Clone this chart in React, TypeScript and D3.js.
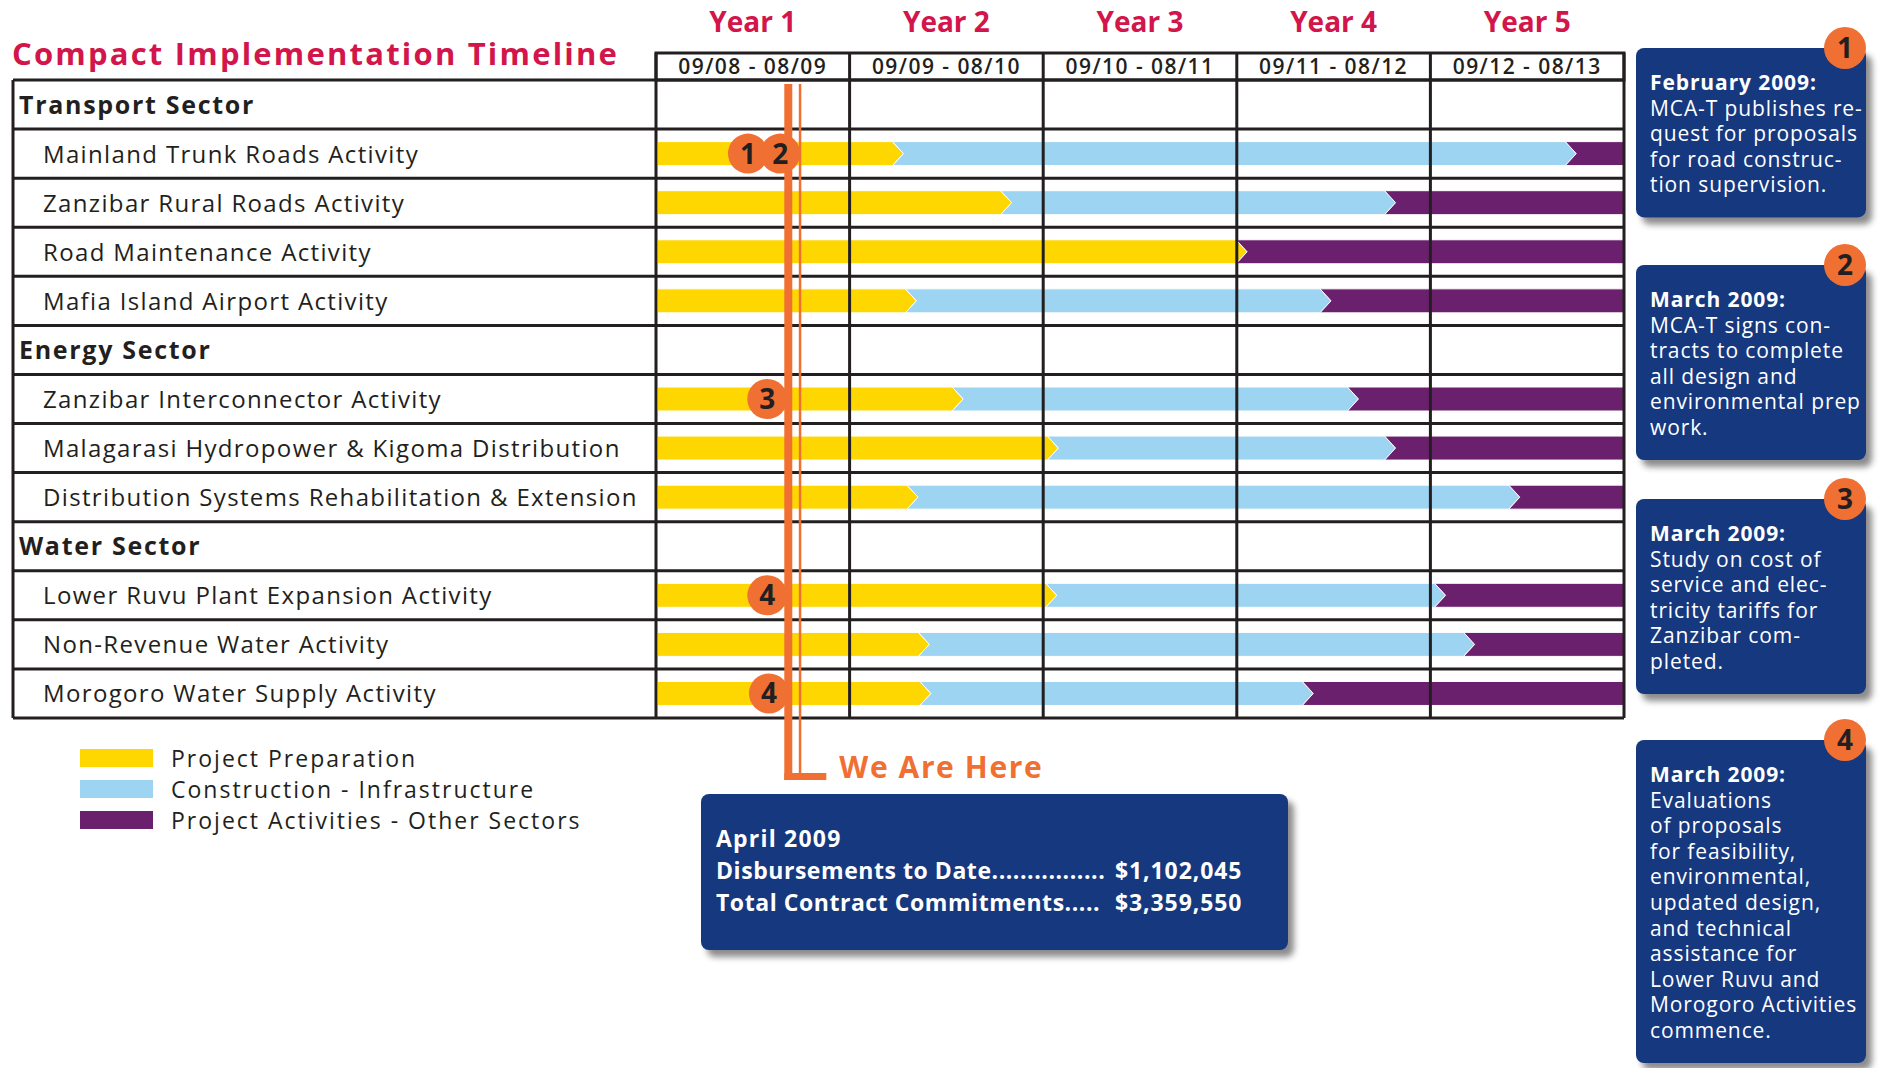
import * as d3 from "d3";

const totalMonths = 60; // Sep 2008 .. Aug 2013

const yearLabels = ["Year 1", "Year 2", "Year 3", "Year 4", "Year 5"];
const periodLabels = ["09/08 - 08/09", "09/09 - 08/10", "09/10 - 08/11", "09/11 - 08/12", "09/12 - 08/13"];

const sectors = ["Transport Sector", "Energy Sector", "Water Sector"];
const activities = [
  "Mainland Trunk Roads Activity",
  "Zanzibar Rural Roads Activity",
  "Road Maintenance Activity",
  "Mafia Island Airport Activity",
  "Zanzibar Interconnector Activity",
  "Malagarasi Hydropower & Kigoma Distribution",
  "Distribution Systems Rehabilitation & Extension",
  "Lower Ruvu Plant Expansion Activity",
  "Non-Revenue Water Activity",
  "Morogoro Water Supply Activity",
];
const activitySector = [0, 0, 0, 0, 1, 1, 1, 2, 2, 2];

// months since Sep 2008 where each phase ends
const prepEnd = [15, 21.7, 36.3, 15.8, 18.7, 24.6, 15.9, 24.5, 16.6, 16.7];
const constructionEnd = [56.7, 45.5, 36.3, 41.5, 43.2, 45.5, 53.2, 48.6, 50.4, 40.4];

const phases = ["Project Preparation", "Construction - Infrastructure", "Project Activities - Other Sectors"];
const phaseColors = ["#FFD700", "#9DD4F1", "#6B206D"];

const weAreHere = 8.2;

const markerNums = ["1", "2", "3", "4", "4"];
const markerRows = [
  "Mainland Trunk Roads Activity",
  "Mainland Trunk Roads Activity",
  "Zanzibar Interconnector Activity",
  "Lower Ruvu Plant Expansion Activity",
  "Morogoro Water Supply Activity",
];
const markerMonths = [5.7, 7.7, 6.9, 6.9, 7.0];

const noteNums = ["1", "2", "3", "4"];
const noteTitles = ["February 2009:", "March 2009:", "March 2009:", "March 2009:"];
const noteLines = [
  ["MCA-T publishes re-", "quest for proposals", "for road construc-", "tion supervision."],
  ["MCA-T signs con-", "tracts to complete", "all design and", "environmental prep", "work."],
  ["Study on cost of", "service and elec-", "tricity tariffs for", "Zanzibar com-", "pleted."],
  ["Evaluations", "of proposals", "for feasibility,", "environmental,", "updated design,", "and technical", "assistance for", "Lower Ruvu and", "Morogoro Activities", "commence."],
];

const summaryTitle = "April 2009";
const summaryLabels = ["Disbursements to Date................", "Total Contract Commitments....."];
const summaryValues = ["$1,102,045", "$3,359,550"];

const W = 1879;
const H = 1068;
const FONT = "'Open Sans', 'Noto Sans', sans-serif";
const INK = "#231F20";
const CRIMSON = "#D2154A";
const ORANGE = "#F07033";
const NAVY = "#15397F";

const noteTops = [48, 265, 499, 740];

export default function App() {
  const tableLeft = 13;
  const labelRight = 656;
  const tableRight = 1624;
  const tableTop = 80;
  const tableBottom = 718;
  const headerTop = 53;

  // row order: sector header followed by its activities
  const rowKeys: string[] = [];
  sectors.forEach((s, si) => {
    rowKeys.push(s);
    activities.forEach((a, ai) => {
      if (activitySector[ai] === si) rowKeys.push(a);
    });
  });

  const x = d3.scaleLinear().domain([0, totalMonths]).range([labelRight, tableRight]);
  const y = d3.scaleBand().domain(rowKeys).range([tableTop, tableBottom]);
  const bw = y.bandwidth();
  const barH = 24;
  const tip = 11;

  const segPath = (a: number, b: number, first: boolean, last: boolean, cy: number) => {
    const t = cy - barH / 2;
    const bt = cy + barH / 2;
    const xa = first ? x(a) + 1.5 : x(a);
    const xb = x(b);
    const pts: [number, number][] = [];
    pts.push([first ? xa : xa - tip / 2, t]);
    if (last) {
      pts.push([xb, t], [xb, bt]);
    } else {
      pts.push([xb - tip / 2, t], [xb + tip / 2, cy], [xb - tip / 2, bt]);
    }
    pts.push([first ? xa : xa - tip / 2, bt]);
    if (!first) pts.push([xa + tip / 2, cy]);
    return d3.line()(pts) + "Z";
  };

  const yearStarts = d3.range(0, totalMonths, 12);
  const xw = x(weAreHere);
  const lBottom = 780;

  return (
    <svg width={W} height={H} style={{ position: "absolute", left: 0, top: 0, display: "block", background: "#fff" }} fontFamily={FONT}>
      <defs>
        <filter id="shadow" x="-10%" y="-10%" width="130%" height="130%">
          <feDropShadow dx="6" dy="7" stdDeviation="3" floodColor="#000" floodOpacity="0.45" />
        </filter>
      </defs>

      <text x={12} y={65} fontSize={31} fontWeight={700} fill={CRIMSON} letterSpacing={2.2}>
        Compact Implementation Timeline
      </text>

      {/* year headers */}
      {yearLabels.map((yl, i) => (
        <g key={yl}>
          <text x={x(yearStarts[i] + 6)} y={32} textAnchor="middle" fontSize={28} fontWeight={700} fill={CRIMSON}>
            {yl}
          </text>
          <text x={x(yearStarts[i] + 6)} y={74} textAnchor="middle" fontSize={21} fontWeight={600} fill={INK} letterSpacing={1.45}>
            {periodLabels[i]}
          </text>
        </g>
      ))}

      {/* bars */}
      {activities.map((a, i) => {
        const cuts = [0, prepEnd[i], constructionEnd[i], totalMonths];
        const segs = phases
          .map((p, pi) => ({ pi, a: cuts[pi], b: cuts[pi + 1] }))
          .filter((s) => s.b > s.a);
        const cy = (y(a) as number) + bw / 2;
        return (
          <g key={a}>
            {segs.map((s, k) => (
              <path
                key={s.pi}
                d={segPath(s.a, s.b, k === 0, k === segs.length - 1, cy)}
                fill={phaseColors[s.pi]}
                stroke="#fff"
                strokeWidth={1}
              />
            ))}
          </g>
        );
      })}

      {/* grid */}
      <g stroke={INK} fill="none">
        <rect x={labelRight} y={headerTop} width={tableRight - labelRight} height={tableTop - headerTop} strokeWidth={3} />
        {rowKeys.map((k) => (
          <line key={k} x1={tableLeft} x2={tableRight} y1={y(k)} y2={y(k)} strokeWidth={3} />
        ))}
        <line x1={tableLeft} x2={tableRight} y1={tableBottom} y2={tableBottom} strokeWidth={3} />
        <line x1={tableLeft} x2={tableLeft} y1={tableTop} y2={tableBottom} strokeWidth={3} />
        {yearStarts.concat([totalMonths]).map((m) => (
          <line key={m} x1={x(m)} x2={x(m)} y1={headerTop} y2={tableBottom} strokeWidth={3} />
        ))}
      </g>

      {/* row labels */}
      {rowKeys.map((k) => {
        const cy = (y(k) as number) + bw / 2;
        const isSector = sectors.includes(k);
        return isSector ? (
          <text key={k} x={19} y={cy + 9} fontSize={25} fontWeight={700} fill={INK} letterSpacing={1.7}>
            {k}
          </text>
        ) : (
          <text key={k} x={43} y={cy + 9} fontSize={24} fill={INK} letterSpacing={1.35}>
            {k}
          </text>
        );
      })}

      {/* we are here marker */}
      <g fill={ORANGE}>
        <rect x={xw - 4} y={84} width={8} height={lBottom - 84} />
        <rect x={xw - 4} y={lBottom - 7} width={42} height={7} />
        <rect x={xw + 10.5} y={84} width={2.5} height={lBottom - 7 - 84} />
      </g>
      <text x={xw + 51} y={lBottom - 2} fontSize={30} fontWeight={700} fill={ORANGE} letterSpacing={1.6}>
        We Are Here
      </text>

      {/* numbered markers on bars */}
      {markerNums.map((n, i) => {
        const cx = x(markerMonths[i]);
        const cy = (y(markerRows[i]) as number) + bw / 2;
        return (
          <g key={i}>
            <circle cx={cx} cy={cy} r={20} fill={ORANGE} />
            <text x={cx} y={cy + 10} textAnchor="middle" fontSize={28} fontWeight={700} fill={INK}>
              {n}
            </text>
          </g>
        );
      })}

      {/* legend */}
      {phases.map((p, i) => (
        <g key={p} transform={`translate(80,${749 + i * 31})`}>
          <rect width={73} height={18} fill={phaseColors[i]} />
          <text x={91} y={17.5} fontSize={23} fill={INK} letterSpacing={2}>
            {p}
          </text>
        </g>
      ))}

      {/* summary box */}
      <rect x={701} y={794} width={587} height={156} rx={8} fill={NAVY} filter="url(#shadow)" />
      <g fill="#fff" fontWeight={700} fontSize={23}>
        <text x={716} y={847} letterSpacing={1.2}>{summaryTitle}</text>
        {summaryLabels.map((l, i) => (
          <g key={l}>
            <text x={716} y={879 + i * 32} letterSpacing={0.55}>{l}</text>
            <text x={1115} y={879 + i * 32} letterSpacing={0.9}>{summaryValues[i]}</text>
          </g>
        ))}
      </g>

      {/* note boxes */}
      {noteNums.map((n, i) => {
        const top = noteTops[i];
        const h = 42 + noteLines[i].length * 25.6 + 25;
        return (
          <g key={i}>
            <rect x={1636} y={top} width={230} height={h} rx={8} fill={NAVY} filter="url(#shadow)" />
            <text x={1650} y={top + 42} fontSize={21} fontWeight={700} fill="#fff" letterSpacing={0.9}>
              {noteTitles[i]}
            </text>
            {noteLines[i].map((l, j) => (
              <text key={j} x={1650} y={top + 42 + (j + 1) * 25.6} fontSize={21} fill="#fff" letterSpacing={0.9}>
                {l}
              </text>
            ))}
            <circle cx={1845} cy={top} r={21} fill={ORANGE} />
            <text x={1845} y={top + 10} textAnchor="middle" fontSize={28} fontWeight={700} fill={INK}>
              {n}
            </text>
          </g>
        );
      })}
    </svg>
  );
}
